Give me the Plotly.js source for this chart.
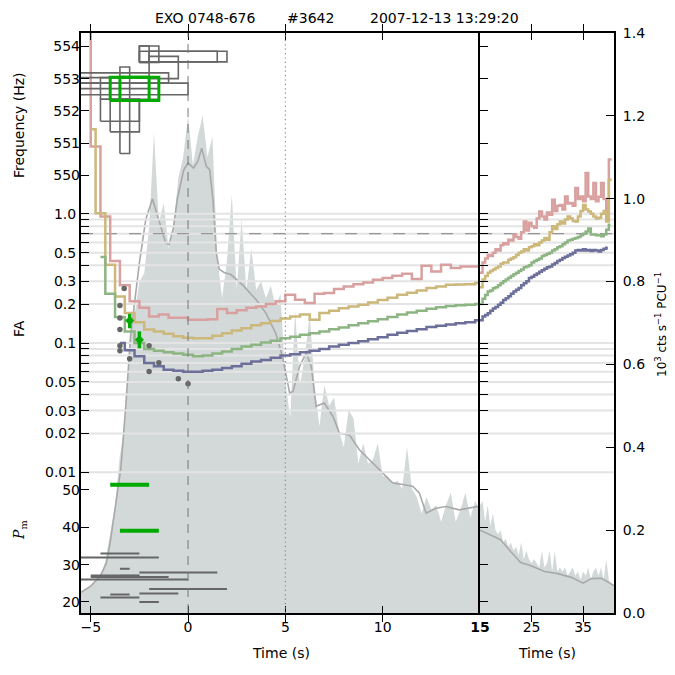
<!DOCTYPE html>
<html><head><meta charset="utf-8">
<script src="https://cdn.plot.ly/plotly-3.0.1.min.js"></script>
<style>html,body{margin:0;padding:0;background:#fff}#chart{width:675px;height:675px}</style>
</head><body><div id="chart"></div>
<script>
// ---------- light curve (10^3 cts/s/PCU) ----------
const lcLeftT = [-5.5,-5.25,-5,-4.75,-4.5,-4.25,-4,-3.75,-3.5,-3.25,-3,-2.75,-2.5,-2.25,-2,-1.75,-1.5,-1.25,-1,-0.75,-0.5,-0.25,0,0.25,0.5,0.75,1,1.25,1.5,1.75,2,2.25,2.5,2.75,3,3.25,3.5,3.75,4,4.25,4.5,4.75,5,5.25,5.5,5.75,6,6.25,6.5,6.75,7,7.25,7.5,7.75,8,8.25,8.5,8.75,9,9.25,9.5,9.75,10,10.25,10.5,10.75,11,11.25,11.5,11.75,12,12.25,12.5,12.75,13,13.25,13.5,13.75,14,14.25,14.5,14.75,15];
const lcLeftR = [0.052,0.058,0.065,0.075,0.09,0.125,0.19,0.26,0.38,0.45,0.66,0.72,0.80,0.82,0.93,1.16,0.94,0.99,0.88,0.93,1.05,1.10,1.20,1.08,1.15,1.20,1.10,1.15,0.86,0.76,0.85,1.01,0.78,0.95,0.78,0.88,0.78,0.80,0.76,0.79,0.74,0.77,0.56,0.47,0.73,0.55,0.62,0.72,0.55,0.45,0.55,0.50,0.52,0.44,0.40,0.49,0.47,0.36,0.41,0.36,0.37,0.41,0.33,0.33,0.31,0.32,0.30,0.40,0.30,0.28,0.24,0.28,0.25,0.26,0.22,0.26,0.29,0.22,0.25,0.29,0.23,0.27,0.25];
const lcRightT = [15,15.5,16,16.5,17,17.5,18,18.5,19,19.5,20,20.5,21,21.5,22,22.5,23,23.5,24,24.5,25,25.5,26,26.5,27,27.5,28,28.5,29,29.5,30,30.5,31,31.5,32,32.5,33,33.5,34,34.5,35,35.5,36,36.5,37,37.5,38,38.5,39,39.5,40,40.5,41];
const lcRightR = [0.26,0.27,0.22,0.26,0.21,0.24,0.20,0.19,0.20,0.17,0.18,0.16,0.17,0.15,0.16,0.14,0.17,0.13,0.15,0.13,0.12,0.13,0.12,0.11,0.15,0.11,0.12,0.15,0.10,0.15,0.10,0.11,0.10,0.11,0.09,0.10,0.11,0.09,0.10,0.08,0.10,0.09,0.11,0.08,0.10,0.11,0.09,0.11,0.08,0.13,0.08,0.07,0.065];
const smLeftT = [-5.5,-5.0,-4.5,-4.2,-4.0,-3.75,-3.45,-3.2,-2.95,-2.5,-2.17,-1.83,-1.5,-1.15,-0.98,-0.75,-0.55,-0.22,0.0,0.28,0.5,0.7,0.94,1.11,1.28,1.45,1.6,1.85,2.2,2.8,3.5,4.0,4.5,4.85,5.05,5.22,5.39,5.73,6.07,6.33,6.58,6.75,7.0,7.44,7.78,8.29,8.8,9.49,10.0,10.51,11.03,11.54,11.88,12.23,12.74,13.25,13.93,14.45,15.0];
const smLeftR = [0.05,0.065,0.09,0.12,0.17,0.25,0.35,0.50,0.67,0.845,0.95,1.0,0.95,0.893,0.889,0.93,1.0,1.07,1.086,1.074,1.09,1.122,1.078,1.07,0.998,0.87,0.83,0.822,0.817,0.792,0.756,0.724,0.676,0.619,0.571,0.531,0.535,0.595,0.628,0.595,0.499,0.503,0.507,0.475,0.434,0.43,0.394,0.362,0.338,0.314,0.31,0.306,0.29,0.241,0.253,0.257,0.249,0.253,0.258];
const smRightT = [15.0,17,19,20.9,22.9,24.9,27.5,30.1,32.7,35.0,36.6,38.6,41];
const smRightR = [0.20,0.189,0.177,0.149,0.122,0.114,0.100,0.095,0.086,0.072,0.083,0.084,0.066];

// ---------- FA curves (step) ----------
const pinkLT = [-5.5,-5.0,-4.5,-4.0,-3.5,-3.0,-2.5,-2.0,-1.5,-1.0,-0.5,0.0,0.5,1.0,1.5,2.0,2.5,3.0,3.5,4.0,4.5,5.0,5.5,6.0,6.5,7.0,7.5,8.0,8.5,9.0,9.5,10.0,10.5,11.0,11.5,12.0,12.5,13.0,13.5,14.0,14.5,15.0];
const pinkLV = [1000,3.31,0.95,0.43,0.28,0.21,0.187,0.160,0.166,0.157,0.157,0.151,0.151,0.153,0.183,0.171,0.179,0.187,0.192,0.200,0.210,0.236,0.216,0.204,0.240,0.244,0.262,0.274,0.285,0.294,0.309,0.318,0.331,0.343,0.313,0.396,0.358,0.403,0.380,0.391,0.391,0.391];
const khakiLT = [-5.0,-4.75,-4.25,-3.75,-3.25,-2.75,-2.25,-1.75,-1.25,-0.75,-0.25,0.25,0.75,1.25,1.75,2.25,2.75,3.25,3.75,4.25,4.75,5.25,5.75,6.25,6.75,7.25,7.75,8.25,8.75,9.25,9.75,10.25,10.75,11.25,11.75,12.25,12.75,13.25,13.75,14.25,14.75,15.0];
const khakiLV = [4.5,1.01,0.403,0.229,0.171,0.145,0.127,0.123,0.118,0.113,0.110,0.109,0.109,0.114,0.119,0.125,0.130,0.137,0.142,0.148,0.155,0.160,0.166,0.151,0.171,0.178,0.186,0.192,0.198,0.206,0.215,0.224,0.236,0.245,0.255,0.266,0.274,0.282,0.283,0.285,0.291,0.291];
const greenLT = [-4.5,-4.25,-3.75,-3.25,-2.75,-2.25,-1.75,-1.25,-0.75,-0.25,0.25,0.75,1.25,1.75,2.25,2.75,3.25,3.75,4.25,4.75,5.25,5.75,6.25,6.75,7.25,7.75,8.25,8.75,9.25,9.75,10.25,10.75,11.25,11.75,12.25,12.75,13.25,13.75,14.25,14.75,15.0];
const greenLV = [0.463,0.24,0.159,0.123,0.100,0.090,0.087,0.085,0.083,0.081,0.079,0.080,0.083,0.086,0.090,0.094,0.097,0.101,0.104,0.109,0.112,0.116,0.119,0.123,0.128,0.132,0.137,0.142,0.147,0.153,0.159,0.166,0.172,0.178,0.184,0.189,0.193,0.196,0.198,0.200,0.200];
const blueLT = [-3.5,-3.25,-2.75,-2.25,-1.75,-1.25,-0.75,-0.25,0.25,0.75,1.25,1.75,2.25,2.75,3.25,3.75,4.25,4.75,5.25,5.75,6.25,6.75,7.25,7.75,8.25,8.75,9.25,9.75,10.25,10.75,11.25,11.75,12.25,12.75,13.25,13.75,14.25,14.75,15.0];
const blueLV = [0.100,0.088,0.079,0.070,0.066,0.062,0.061,0.060,0.060,0.061,0.062,0.064,0.066,0.069,0.072,0.074,0.077,0.080,0.082,0.085,0.087,0.090,0.094,0.097,0.100,0.103,0.107,0.111,0.116,0.120,0.124,0.128,0.133,0.136,0.139,0.142,0.145,0.150,0.150];
const stepRT = [15,15.5,16,16.5,17,17.5,18,18.5,19,19.5,20,20.5,21,21.5,22,22.5,23,23.5,24,24.5,25,25.5,26,26.5,27,27.5,28,28.5,29,29.5,30,30.5,31,31.5,32,32.5,33,33.5,34,34.5,35,35.5,36,36.5,37,37.5,38,38.5,39,39.5,40];
const pinkRV = [0.35,0.42,0.45,0.48,0.47,0.50,0.53,0.52,0.57,0.59,0.58,0.63,0.62,0.69,0.66,0.64,0.72,0.87,0.74,0.85,0.80,0.78,0.92,1.04,0.95,0.90,1.02,0.98,1.28,1.05,1.15,1.17,1.08,1.36,1.20,1.21,1.15,1.58,1.30,1.36,1.25,2.06,1.36,1.30,1.73,1.25,1.35,1.73,1.30,0.90,2.62,2.62];
const khakiRV = [0.27,0.31,0.33,0.35,0.36,0.37,0.38,0.39,0.41,0.42,0.42,0.44,0.45,0.46,0.48,0.50,0.51,0.53,0.52,0.55,0.56,0.58,0.57,0.60,0.62,0.65,0.63,0.72,0.80,0.76,0.83,0.87,0.84,0.90,0.95,0.92,0.88,0.87,0.95,1.05,1.17,1.08,1.04,1.00,0.95,0.92,0.93,1.00,1.05,0.87,1.83,1.83];
const greenRV = [0.20,0.22,0.235,0.25,0.255,0.265,0.27,0.28,0.29,0.30,0.31,0.32,0.33,0.34,0.35,0.36,0.37,0.385,0.39,0.40,0.42,0.43,0.44,0.45,0.47,0.48,0.49,0.50,0.52,0.53,0.55,0.56,0.58,0.60,0.62,0.63,0.64,0.65,0.66,0.68,0.70,0.73,0.77,0.69,0.69,0.68,0.68,0.67,0.69,0.75,0.82,0.82];
const blueRV = [0.15,0.16,0.165,0.17,0.178,0.185,0.19,0.198,0.205,0.215,0.222,0.23,0.24,0.25,0.258,0.266,0.28,0.29,0.30,0.318,0.325,0.335,0.345,0.355,0.365,0.375,0.385,0.39,0.405,0.415,0.43,0.44,0.455,0.465,0.475,0.485,0.50,0.52,0.525,0.52,0.53,0.52,0.525,0.515,0.525,0.52,0.51,0.525,0.535,0.545,0.545];
const pinkREnd = 40.55, khakiREnd = 40.55, greenREnd = 40.3, blueREnd = 39.8;

// ---------- FA points ----------
const faPtT = [-3.28,-3.5,-3.5,-3.5,-3.5,-3.5,-3.0,-2.0,-1.5,-2.0,-0.5,0.0];
const faPtV = [0.264,0.195,0.156,0.127,0.0953,0.087,0.0756,0.0953,0.0704,0.0603,0.053,0.0484];
const faGreenT = [-3.0,-2.5];
const faGreenV = [0.149,0.106];
const faGreenErrHi = [0.019,0.017];
const faGreenErrLo = [0.019,0.015];

// ---------- frequency boxes (Hz) ----------
const boxT0 = [-2.5,-2.5,-2.5,-2.0,-2.0,-3.5,-5.6,-5.6,-4.5,-4.5,-4.0,-3.5,-5.6];
const boxT1 = [-1.5,-2.0,1.5,2.0,-0.5,-3.0,-1.0,0.0,-1.5,-2.5,-2.5,-3.0,-1.5];
const boxF0 = [553.50,553.50,553.52,553.52,553.0,552.36,552.86,552.5,552.36,551.68,551.35,550.68,552.69];
const boxF1 = [554.01,554.01,553.85,553.85,553.69,553.36,553.18,552.86,553.03,552.36,552.36,552.36,553.03];
const gBoxT0 = [-4.0,-3.5];
const gBoxT1 = [-2.0,-1.5];
const gBoxF0 = [552.32,552.32];
const gBoxF1 = [553.04,553.04];

// ---------- P_m segments ----------
const pmT0 = [-4.5,-5.6,-3.5,-2.5,-5.0,-3.5,-5.0,-5.6,-2.0,-2.5,-4.0,-4.5,-2.5];
const pmT1 = [-2.5,-1.5,-3.0,1.5,-2.5,-2.5,-1.0,0.0,2.0,-0.5,-3.0,-2.5,-1.5];
const pmV  = [33.0,31.9,28.9,27.9,27.1,27.0,26.7,26.0,23.5,22.3,22.0,21.2,20.0];
const pmGT0 = [-4.0,-3.5];
const pmGT1 = [-2.0,-1.5];
const pmGV = [51.4,39.1];

// ---------- axes ----------
const faGrid = [0.01,0.02,0.03,0.04,0.05,0.06,0.07,0.08,0.09,0.1,0.2,0.3,0.4,0.5,0.6,0.7,0.8,0.9,1.0];
const faLabelled = [0.01,0.02,0.03,0.05,0.1,0.2,0.3,0.5,1.0];
const faLabelText = ['0.01','0.02','0.03','0.05','0.1','0.2','0.3','0.5','1.0'];
const faMinor = [0.04,0.06,0.07,0.08,0.09,0.4,0.6,0.7,0.8,0.9];
const faThreshold = 0.7;
const freqTicks = [550,551,552,553,554];
const pmTicks = [20,30,40,50];
const rateTicks = [0,0.2,0.4,0.6,0.8,1.0,1.2,1.4];
const rateTickText = ['0.0','0.2','0.4','0.6','0.8','1.0','1.2','1.4'];
const leftRange = [-5.5,15], rightRange = [15,41];

// ---------- build ----------
const C = {fill:'#d3d8d8', smooth:'#a9a9a9', grid:'#e4e4e4', pink:'#d9a0a0', khaki:'#ccb87a', green:'#8db583', blue:'#6c6f99', gray:'#666666', bright:'#00aa00'};
function rects(t0,t1,f0,f1){const x=[],y=[];for(let i=0;i<t0.length;i++){x.push(t0[i],t1[i],t1[i],t0[i],t0[i],null);y.push(f0[i],f0[i],f1[i],f1[i],f0[i],null);}return {x,y};}
function segs(t0,t1,v){const x=[],y=[];for(let i=0;i<t0.length;i++){x.push(t0[i],t1[i],null);y.push(v[i],v[i],null);}return {x,y};}
function hlines(vals,a,b){const x=[],y=[];vals.forEach(v=>{x.push(a,b,null);y.push(v,v,null);});return {x,y};}

const traces = [];
traces.push({x:lcLeftT,y:lcLeftR,xaxis:'x',yaxis:'y',type:'scatter',mode:'lines',fill:'tozeroy',fillcolor:C.fill,line:{width:0,color:C.fill},hoverinfo:'skip'});
traces.push({x:lcRightT,y:lcRightR,xaxis:'x2',yaxis:'y',type:'scatter',mode:'lines',fill:'tozeroy',fillcolor:C.fill,line:{width:0,color:C.fill},hoverinfo:'skip'});
traces.push({x:smLeftT,y:smLeftR,xaxis:'x',yaxis:'y',type:'scatter',mode:'lines',line:{width:1.6,color:C.smooth}});
traces.push({x:smRightT,y:smRightR,xaxis:'x2',yaxis:'y',type:'scatter',mode:'lines',line:{width:1.6,color:C.smooth}});

// left panel FA layer (y2), right panel FA layer (y5)
const gl = hlines(faGrid,leftRange[0],leftRange[1]);
const gr = hlines(faGrid,rightRange[0],rightRange[1]);
traces.push({x:gl.x,y:gl.y,xaxis:'x',yaxis:'y2',mode:'lines',line:{width:2,color:C.grid},hoverinfo:'skip'});
traces.push({x:gr.x,y:gr.y,xaxis:'x2',yaxis:'y5',mode:'lines',line:{width:2,color:C.grid},hoverinfo:'skip'});
traces.push({x:leftRange,y:[faThreshold,faThreshold],xaxis:'x',yaxis:'y2',mode:'lines',line:{width:1,color:'#808080',dash:'12px,12px'}});
traces.push({x:rightRange,y:[faThreshold,faThreshold],xaxis:'x2',yaxis:'y5',mode:'lines',line:{width:1,color:'#808080',dash:'12px,12px'}});

const stepL = [[pinkLT,pinkLV,C.pink],[khakiLT,khakiLV,C.khaki],[greenLT,greenLV,C.green],[blueLT,blueLV,C.blue]];
stepL.forEach(s=>traces.push({x:s[0],y:s[1],xaxis:'x',yaxis:'y2',mode:'lines',line:{shape:'hv',width:2.5,color:s[2]}}));
const stepR = [[stepRT.concat([pinkREnd]),pinkRV,C.pink],[stepRT.concat([khakiREnd]),khakiRV,C.khaki],[stepRT.concat([greenREnd]),greenRV,C.green],[stepRT.slice(0,blueRV.length-1).concat([blueREnd]),blueRV,C.blue]];
stepR.forEach(s=>traces.push({x:s[0],y:s[1],xaxis:'x2',yaxis:'y5',mode:'lines',line:{shape:'hv',width:2.5,color:s[2]}}));

traces.push({x:faPtT,y:faPtV,xaxis:'x',yaxis:'y2',mode:'markers',marker:{size:5.5,color:C.gray}});
traces.push({x:faGreenT,y:faGreenV,xaxis:'x',yaxis:'y2',mode:'markers',marker:{size:7,color:C.bright,symbol:'diamond'},
  error_y:{type:'data',symmetric:false,array:faGreenErrHi,arrayminus:faGreenErrLo,color:C.bright,thickness:3.5,width:0}});

const bx = rects(boxT0,boxT1,boxF0,boxF1);
traces.push({x:bx.x,y:bx.y,xaxis:'x',yaxis:'y3',mode:'lines',line:{width:1.6,color:C.gray}});
const gbx = rects(gBoxT0,gBoxT1,gBoxF0,gBoxF1);
traces.push({x:gbx.x,y:gbx.y,xaxis:'x',yaxis:'y3',mode:'lines',line:{width:3,color:C.bright}});

const pm = segs(pmT0,pmT1,pmV);
traces.push({x:pm.x,y:pm.y,xaxis:'x',yaxis:'y4',mode:'lines',line:{width:2,color:C.gray}});
const pmg = segs(pmGT0,pmGT1,pmGV);
traces.push({x:pmg.x,y:pmg.y,xaxis:'x',yaxis:'y4',mode:'lines',line:{width:4,color:C.bright}});

// empty traces so the right-panel frequency / P_m tick axes are drawn
traces.push({x:[],y:[],xaxis:'x2',yaxis:'y6',mode:'lines'});
traces.push({x:[],y:[],xaxis:'x2',yaxis:'y7',mode:'lines'});

const faRange = [-3.088,1.3975], freqRange = [536.43,554.415], pmRange = [17.05,172.4];
const xBase = {ticks:'inside',ticklen:7,tickcolor:'#000',showline:true,linecolor:'#000',linewidth:2,mirror:'allticks',showgrid:false,zeroline:false,tickmode:'array',tickfont:{size:14}};
const yIn = {ticks:'inside',ticklen:8,tickcolor:'#000',showgrid:false,zeroline:false,tickmode:'array',tickfont:{size:14}};
const faMinorCfg = {tickmode:'array',tickvals:faMinor,ticks:'inside',ticklen:8,tickcolor:'#000',showgrid:false};
const split = (480-81)/533;
const layout = {
  width:675,height:675,margin:{l:81,r:61,t:33,b:62},paper_bgcolor:'#fff',plot_bgcolor:'#fff',showlegend:false,
  font:{family:'DejaVu Sans',size:14,color:'#000'},
  xaxis:Object.assign({},xBase,{domain:[0,split],range:leftRange,anchor:'y',tickvals:[-5,0,5,10,15],ticktext:['\u22125','0','5','10','<b>15</b>']}),
  xaxis2:Object.assign({},xBase,{domain:[split,1],range:rightRange,anchor:'y',tickvals:[25,35],ticktext:['25','35']}),
  yaxis:Object.assign({},yIn,{domain:[0,1],range:[0,1.4],anchor:'x2',side:'right',tickvals:rateTicks,ticktext:rateTickText,showline:true,linecolor:'#000',linewidth:2,ticklabelstandoff:4}),
  yaxis2:Object.assign({},yIn,{type:'log',range:faRange,overlaying:'y',anchor:'x',side:'left',tickvals:faLabelled,ticktext:faLabelText,minor:faMinorCfg,showline:true,linecolor:'#000',linewidth:2}),
  yaxis3:Object.assign({},yIn,{range:freqRange,overlaying:'y',anchor:'x',side:'left',tickvals:freqTicks,ticktext:freqTicks.map(String),showline:false}),
  yaxis4:Object.assign({},yIn,{range:pmRange,overlaying:'y',anchor:'x',side:'left',tickvals:pmTicks,ticktext:pmTicks.map(String),showline:false}),
  yaxis5:Object.assign({},yIn,{type:'log',range:faRange,overlaying:'y',anchor:'x2',side:'left',tickvals:faLabelled,minor:faMinorCfg,showticklabels:false,showline:true,linecolor:'#000',linewidth:2}),
  yaxis6:Object.assign({},yIn,{range:freqRange,overlaying:'y',anchor:'x2',side:'left',tickvals:freqTicks,showticklabels:false,showline:false}),
  yaxis7:Object.assign({},yIn,{range:pmRange,overlaying:'y',anchor:'x2',side:'left',tickvals:pmTicks,showticklabels:false,showline:false}),
  shapes:[
    {type:'line',xref:'x',yref:'paper',x0:0,x1:0,y0:0,y1:1,layer:'above',line:{color:'#777',width:1,dash:'9px,7px'}},
    {type:'line',xref:'x',yref:'paper',x0:5,x1:5,y0:0,y1:1,layer:'above',line:{color:'#888',width:1.2,dash:'1.2px,3.2px'}}
  ],
  annotations:[
    {text:'EXO 0748-676',xref:'paper',yref:'paper',x:(205-81)/533,y:1+15/580,showarrow:false,xanchor:'center',yanchor:'middle',font:{size:14}},
    {text:'#3642',xref:'paper',yref:'paper',x:(310-81)/533,y:1+15/580,showarrow:false,xanchor:'center',yanchor:'middle',font:{size:14}},
    {text:'2007-12-13 13:29:20',xref:'paper',yref:'paper',x:(444-81)/533,y:1+15/580,showarrow:false,xanchor:'center',yanchor:'middle',font:{size:14}},
    {text:'Frequency (Hz)',xref:'paper',yref:'paper',x:(19-81)/533,y:1-(125-33)/580,showarrow:false,textangle:-90,xanchor:'center',yanchor:'middle',font:{size:14}},
    {text:'FA',xref:'paper',yref:'paper',x:(19-81)/533,y:1-(329-33)/580,showarrow:false,textangle:-90,xanchor:'center',yanchor:'middle',font:{size:14}},
    {text:'<i>P</i><sub>m</sub>',xref:'paper',yref:'paper',x:(20-81)/533,y:1-(530-33)/580,showarrow:false,textangle:-90,xanchor:'center',yanchor:'middle',font:{size:14,family:'DejaVu Serif'}},
    {text:'10<sup>3</sup> cts s<sup>\u22121</sup> PCU<sup>\u22121</sup>',xref:'paper',yref:'paper',x:(661-81)/533,y:1-(325-33)/580,showarrow:false,textangle:-90,xanchor:'center',yanchor:'middle',font:{size:12}},
    {text:'Time (s)',xref:'paper',yref:'paper',x:(280.5-81)/533,y:-(653-613)/580,showarrow:false,xanchor:'center',yanchor:'middle',font:{size:14}},
    {text:'Time (s)',xref:'paper',yref:'paper',x:(547-81)/533,y:-(653-613)/580,showarrow:false,xanchor:'center',yanchor:'middle',font:{size:14}}
  ]
};
Plotly.newPlot('chart',traces,layout,{displayModeBar:false,staticPlot:true});
</script></body></html>
